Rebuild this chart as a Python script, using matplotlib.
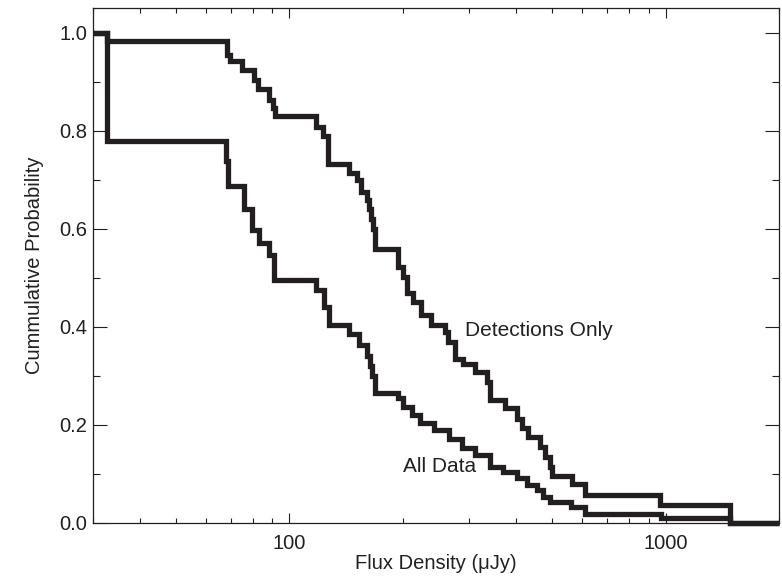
import matplotlib
matplotlib.use("Agg")
import matplotlib.pyplot as plt
from matplotlib.ticker import FixedLocator, NullFormatter, MultipleLocator, FormatStrFormatter

plt.rcParams['font.family'] = ['Liberation Sans', 'DejaVu Sans']

# Kaplan-Meier style cumulative distributions: flux (uJy) at each step and
# the probability after that step
det_flux = [32.7, 68.3, 69.6, 74.9, 80.7, 82.7, 88.4, 90.6, 91.8,
            118.0, 122.5, 126.3, 143.7, 150.9, 154.6, 160.4, 162.4, 164.4, 166.5, 168.5,
            194.1, 200.1, 205.1, 212.8, 223.5, 237.7, 259.1, 263.9, 275.4, 289.3,
            311.4, 335.2, 341.5, 374.4, 403.2, 415.7, 431.2, 464.2, 478.6, 493.6,
            499.7, 564.9, 611.8, 963.8, 1481.5]
det_prob = [0.982, 0.955, 0.943, 0.924, 0.904, 0.885, 0.862, 0.846, 0.829,
            0.807, 0.790, 0.733, 0.713, 0.699, 0.675, 0.658, 0.640, 0.620, 0.600, 0.559,
            0.522, 0.502, 0.468, 0.451, 0.424, 0.403, 0.390, 0.370, 0.335, 0.325,
            0.308, 0.288, 0.250, 0.234, 0.213, 0.193, 0.176, 0.155, 0.135, 0.115,
            0.096, 0.080, 0.058, 0.037, 0.0]

all_flux = [32.7, 67.9, 68.8, 75.9, 79.7, 83.2, 88.4, 91.2,
            118.0, 123.2, 127.1, 143.7, 152.8, 160.4, 163.4, 165.5, 168.5,
            194.1, 200.1, 211.5, 222.2, 242.1, 265.5, 287.5, 311.4, 341.5,
            369.8, 403.2, 428.5, 455.7, 472.8, 493.6, 561.5, 611.8, 969.8, 1481.5]
all_prob = [0.779, 0.739, 0.688, 0.641, 0.597, 0.570, 0.546, 0.495,
            0.475, 0.441, 0.403, 0.386, 0.362, 0.340, 0.320, 0.300, 0.266,
            0.254, 0.237, 0.220, 0.203, 0.190, 0.172, 0.152, 0.138, 0.115,
            0.104, 0.091, 0.077, 0.067, 0.054, 0.043, 0.032, 0.019, 0.0095, 0.0]

x_min, x_max = 30, 2000
y_min, y_max = 0.0, 1.05

ink = '#231f20'

fig = plt.figure(figsize=(7.82, 5.77), dpi=100)
ax = fig.add_axes([0.1185, 0.0936, 0.8777, 0.8924])


def km_curve(flux, prob):
    xs = [x_min] + list(flux) + [x_max]
    ys = [1.0] + list(prob) + [prob[-1]]
    ax.plot(xs, ys, drawstyle='steps-post', color=ink, lw=3.8,
            solid_joinstyle='miter', solid_capstyle='butt', clip_on=False, zorder=3)


km_curve(det_flux, det_prob)
km_curve(all_flux, all_prob)

ax.set_xscale('log')
ax.set_xlim(x_min, x_max)
ax.set_ylim(y_min, y_max)

ax.xaxis.set_major_locator(FixedLocator([100, 1000]))
ax.xaxis.set_major_formatter(FormatStrFormatter('%d'))
minor_x = [v * d for d in (10, 100, 1000) for v in range(2, 10) if x_min <= v * d <= x_max]
ax.xaxis.set_minor_locator(FixedLocator(minor_x))
ax.xaxis.set_minor_formatter(NullFormatter())

ax.yaxis.set_major_locator(FixedLocator([0.0, 0.2, 0.4, 0.6, 0.8, 1.0]))
ax.yaxis.set_major_formatter(FormatStrFormatter('%.1f'))
ax.yaxis.set_minor_locator(MultipleLocator(0.1))

ax.tick_params(axis='both', which='both', direction='in', top=True, right=True,
               color=ink, width=0.8, labelcolor=ink, labelsize=14.5)
ax.tick_params(axis='x', which='major', length=7.2, pad=8)
ax.tick_params(axis='x', which='minor', length=3.6)
ax.tick_params(axis='y', which='major', length=10, pad=4)
ax.tick_params(axis='y', which='minor', length=5)

for sp in ax.spines.values():
    sp.set_color(ink)
    sp.set_linewidth(0.9)

ax.set_xlabel('Flux Density (\u03bcJy)', fontsize=14.5, color=ink, labelpad=0.5)
ax.set_ylabel('Cummulative Probability', fontsize=14.5, color=ink, labelpad=11)

ax.text(293, 0.393, 'Detections Only', fontsize=15, color=ink, ha='left', va='center')
ax.text(200, 0.115, 'All Data', fontsize=15, color=ink, ha='left', va='center')

fig.savefig('out.png', dpi=100)
